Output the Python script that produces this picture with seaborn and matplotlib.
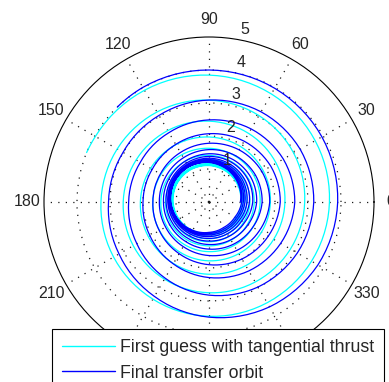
import numpy as np
import matplotlib
matplotlib.use("Agg")
import matplotlib.pyplot as plt
import seaborn as sns

# radii of each spiral, one row per revolution, sampled every 30 deg (0..330)
guess_turns = [
    [0.960, 1.010, 1.063, 1.105, 1.126, 1.120, 1.090, 1.044, 0.994, 0.955, 0.937, 0.946],
    [0.990, 1.034, 1.081, 1.118, 1.136, 1.131, 1.105, 1.066, 1.024, 0.993, 0.979, 0.989],
    [1.030, 1.066, 1.104, 1.135, 1.151, 1.149, 1.130, 1.100, 1.069, 1.045, 1.036, 1.045],
    [1.080, 1.109, 1.140, 1.165, 1.180, 1.181, 1.170, 1.151, 1.130, 1.115, 1.110, 1.119],
    [1.150, 1.172, 1.195, 1.215, 1.228, 1.233, 1.230, 1.221, 1.212, 1.205, 1.205, 1.214],
    [1.240, 1.256, 1.274, 1.290, 1.304, 1.314, 1.320, 1.324, 1.326, 1.330, 1.336, 1.346],
    [1.370, 1.385, 1.400, 1.415, 1.430, 1.445, 1.460, 1.475, 1.490, 1.505, 1.520, 1.535],
    [1.550, 1.576, 1.602, 1.628, 1.653, 1.679, 1.705, 1.731, 1.757, 1.783, 1.808, 1.834],
    [1.860, 1.897, 1.933, 1.970, 2.007, 2.043, 2.080, 2.117, 2.153, 2.190, 2.227, 2.263],
    [2.300, 2.350, 2.400, 2.450, 2.500, 2.550, 2.600, 2.650, 2.700, 2.750, 2.800, 2.850],
    [2.900, 2.963, 3.025, 3.088, 3.150, 3.213, 3.275, 3.338, 3.400, 3.463, 3.525, 3.588],
]
guess_tail_deg = [0, 30, 60, 90, 120, 150, 158]
guess_tail_r = [3.650, 3.715, 3.780, 3.845, 3.910, 3.975, 4.000]

final_turns = [
    [0.950, 1.038, 1.129, 1.200, 1.232, 1.217, 1.160, 1.076, 0.988, 0.920, 0.891, 0.909],
    [0.990, 1.071, 1.152, 1.213, 1.237, 1.219, 1.165, 1.089, 1.013, 0.958, 0.938, 0.961],
    [1.040, 1.113, 1.183, 1.233, 1.248, 1.227, 1.175, 1.107, 1.042, 0.998, 0.987, 1.013],
    [1.090, 1.156, 1.216, 1.255, 1.263, 1.239, 1.190, 1.130, 1.077, 1.045, 1.044, 1.075],
    [1.150, 1.209, 1.259, 1.288, 1.288, 1.261, 1.215, 1.164, 1.122, 1.103, 1.111, 1.146],
    [1.225, 1.275, 1.312, 1.328, 1.319, 1.290, 1.250, 1.212, 1.186, 1.183, 1.203, 1.244],
    [1.325, 1.363, 1.383, 1.383, 1.363, 1.332, 1.300, 1.277, 1.272, 1.288, 1.322, 1.368],
    [1.445, 1.472, 1.478, 1.463, 1.434, 1.403, 1.380, 1.375, 1.391, 1.428, 1.478, 1.531],
    [1.610, 1.627, 1.618, 1.588, 1.549, 1.518, 1.505, 1.519, 1.561, 1.623, 1.692, 1.756],
    [1.840, 1.850, 1.825, 1.780, 1.732, 1.700, 1.700, 1.737, 1.808, 1.900, 1.995, 2.073],
    [2.160, 2.164, 2.128, 2.070, 2.015, 1.986, 2.000, 2.062, 2.165, 2.290, 2.412, 2.508],
    [2.600, 2.601, 2.556, 2.488, 2.427, 2.404, 2.435, 2.525, 2.663, 2.823, 2.974, 3.090],
    [3.175, 3.192, 3.155, 3.090, 3.030, 3.008, 3.045, 3.148, 3.305, 3.490, 3.670, 3.812],
]
final_tail_deg = [0, 30, 60, 90, 120, 134]
final_tail_r = [3.900, 3.950, 3.980, 4.000, 4.010, 4.000]

angle_ticks = list(range(0, 360, 30))
hidden_angles = [240, 270, 300]  # these sit under the legend box
radius_ticks = [1, 2, 3, 4, 5]
labels = ["First guess with tangential thrust", "Final transfer orbit"]
colors = ["#00ffff", "#0000ff"]


def unroll(turns, tail_deg, tail_r):
    r = [v for row in turns for v in row] + list(tail_r)
    deg = [30 * k for k in range(12 * len(turns))]
    deg += [360 * len(turns) + d for d in tail_deg]
    return np.deg2rad(deg), np.array(r)


sns.set_theme(style="white")
plt.rcParams["font.family"] = ["Liberation Sans", "DejaVu Sans"]
plt.rcParams["path.simplify"] = False

fig = plt.figure(figsize=(3.89, 3.82), dpi=100)
ax = fig.add_axes([44 / 389, 1 - 367 / 382, 330 / 389, 330 / 382], projection="polar")

curves = [unroll(guess_turns, guess_tail_deg, guess_tail_r),
          unroll(final_turns, final_tail_deg, final_tail_r)]
for (th, r), lab, col in zip(curves, labels, colors):
    sns.lineplot(x=th, y=r, sort=False, estimator=None, color=col,
                 linewidth=0.9, label=lab, ax=ax)

# let the polar transform draw each segment as a spiral arc, not a chord
for line in ax.get_lines():
    p = line.get_path()
    p._interpolation_steps = 8
    p.should_simplify = False

ax.set_rlim(0, 5)
ax.set_xticks(np.deg2rad(angle_ticks))
ax.set_xticklabels([])
ax.set_yticks(radius_ticks[:-1])
ax.set_yticklabels([])
ax.grid(True, color="0.1", linestyle=(0, (1, 5)), linewidth=0.9)
ax.spines["polar"].set_color("black")
ax.spines["polar"].set_linewidth(0.8)
ax.set_xlabel("")
ax.set_ylabel("")

for a in angle_ticks:
    if a in hidden_angles:
        continue
    ax.text(np.deg2rad(a), 5.52, str(a), ha="center", va="center",
            fontsize=11.5, clip_on=False)
for rv in radius_ticks:
    ax.text(np.deg2rad(82), rv + 0.05, "  " + str(rv), ha="left", va="bottom",
            fontsize=11.5, clip_on=False)

leg = ax.legend(loc="upper left", bbox_to_anchor=(52 / 389, 1 - 329 / 382),
                bbox_transform=fig.transFigure, frameon=True, fancybox=False,
                edgecolor="black", framealpha=1, borderaxespad=0,
                fontsize=12.8, handlelength=3.0, handletextpad=0.3,
                labelspacing=0.5, borderpad=0.55)
leg.get_frame().set_linewidth(0.8)
for h in leg.get_lines():
    h.set_linewidth(1.0)

fig.savefig("out.png", dpi=100)
